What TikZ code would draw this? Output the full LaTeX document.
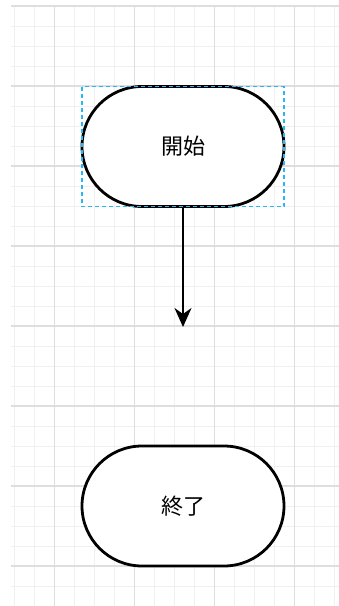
\documentclass[tikz,border=0pt]{standalone}
\usepackage{fontspec}
\setmainfont{Noto Sans CJK JP}
\usetikzlibrary{arrows.meta}
\definecolor{gridminor}{HTML}{F0F0F0}
\definecolor{gridmajor}{HTML}{DEDEDE}
\definecolor{selblue}{HTML}{29B6F2}
\tikzset{
  terminal/.style={draw=black, fill=white, line width=2.8pt, minimum width=202pt, minimum height=120pt,
    rounded corners=60pt, inner sep=0pt, outer sep=0pt, font=\fontsize{22}{26}\selectfont},
  selbox/.style={draw=selblue, line width=1.2pt, dash pattern=on 4pt off 3pt},
  flow/.style={draw=black, line width=1.8pt, -{Stealth[length=19pt,width=17pt,inset=6pt]}},
  minorline/.style={draw=gridminor, line width=1pt},
  majorline/.style={draw=gridmajor, line width=1.2pt}
}
\begin{document}
\begin{tikzpicture}[x=1pt,y=-1pt]
\useasboundingbox (0,0) rectangle (339,606);
\fill[white] (0,0) rectangle (339,606);
% grid
\foreach \x in {14.5,34.5,74.5,94.5,114.5,154.5,174.5,194.5,234.5,254.5,274.5,314.5,334.5}
  \draw[minorline] (\x,6) -- (\x,606);
\foreach \y in {26,46,66,106,126,146,186,206,226,266,286,306,346,366,386,426,446,466,506,526,546,586}
  \draw[minorline] (11,\y) -- (339,\y);
\foreach \x in {54.5,134.5,214.5,294.5}
  \draw[majorline] (\x,6) -- (\x,606);
\foreach \y in {6,86,166,246,326,406,486,566}
  \draw[majorline] (11,\y) -- (339,\y);
% nodes
\node[terminal] (start) at (183,146.5) {開始};
\node[terminal] (end) at (183,506) {終了};
\coordinate (tip) at (183,327);
\draw[flow] (start.south) -- (tip);
\draw[selbox] (start.north west) rectangle (start.south east);
\end{tikzpicture}
\end{document}
